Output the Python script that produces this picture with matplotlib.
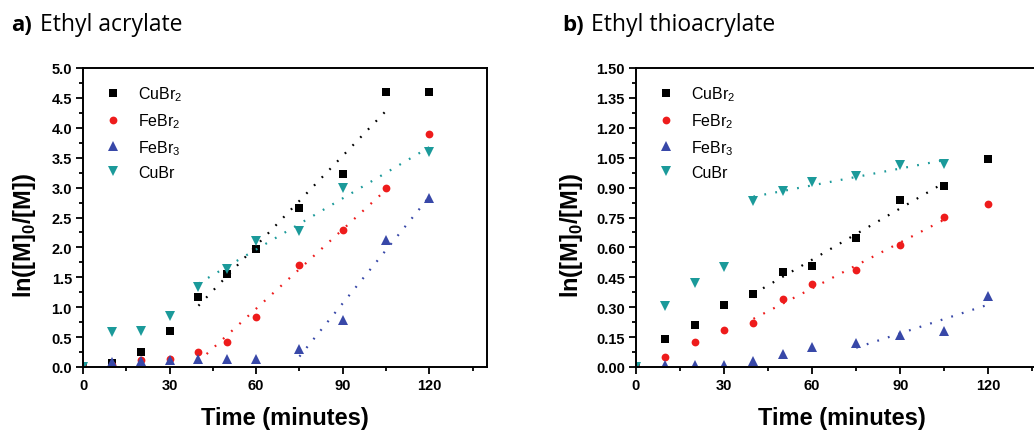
import matplotlib
matplotlib.use('Agg')
import matplotlib.pyplot as plt
import numpy as np
from matplotlib.ticker import MultipleLocator, FormatStrFormatter

plt.rcParams['font.family'] = ['Liberation Sans', 'DejaVu Sans']
plt.rcParams['mathtext.fontset'] = 'custom'
plt.rcParams['mathtext.rm'] = 'Liberation Sans'
plt.rcParams['mathtext.bf'] = 'Liberation Sans:bold'

# time points (minutes)
time = [0, 10, 20, 30, 40, 50, 60, 75, 90, 105, 120]

# a) Ethyl acrylate
a_cubr2 = [0, 0.07, 0.25, 0.61, 1.17, 1.55, 1.97, 2.66, 3.22, 4.60, 4.60]
a_febr2 = [0, 0.04, 0.11, 0.13, 0.25, 0.42, 0.84, 1.71, 2.29, 2.99, 3.89]
a_febr3 = [0, 0.08, 0.10, 0.11, 0.13, 0.14, 0.14, 0.30, 0.79, 2.13, 2.82]
a_cubr = [0, 0.58, 0.60, 0.86, 1.33, 1.64, 2.10, 2.28, 2.99, np.nan, 3.59]

# b) Ethyl thioacrylate
b_cubr2 = [0, 0.139, 0.21, 0.312, 0.367, 0.476, 0.508, 0.648, 0.839, 0.907, 1.044]
b_febr2 = [0, 0.050, 0.125, 0.184, 0.222, 0.341, 0.414, 0.488, 0.611, 0.752, 0.817]
b_febr3 = [0, 0.012, 0.011, 0.010, 0.030, 0.064, 0.102, 0.122, 0.161, 0.180, 0.356]
b_cubr = [0, 0.306, 0.421, 0.501, 0.835, 0.884, 0.930, 0.957, 1.014, 1.016, np.nan]

# range (start, end) of the linear fit for each series
a_fits = [(40, 105), (40, 105), (75, 120), (40, 120)]
b_fits = [(40, 105), (40, 105), (75, 120), (40, 105)]

labels = [r'CuBr$_2$', r'FeBr$_2$', r'FeBr$_3$', 'CuBr']
colors = ['#000000', '#ee1c1c', '#3848a8', '#1b9a9a']
markers = ['s', 'o', '^', 'v']
sizes = [5.2, 5.6, 6.6, 6.6]


def panel(ax, series, fits, ymax, ystep, fmt, ylab_x):
    t = np.array(time, dtype=float)
    for y, (t0, t1), lab, c, m, s in zip(series, fits, labels, colors, markers, sizes):
        y = np.array(y, dtype=float)
        ax.plot(t, y, linestyle='none', marker=m, color=c, markersize=s,
                markeredgewidth=0, label=lab)
        sel = (t >= t0) & (t <= t1) & ~np.isnan(y)
        k, b = np.polyfit(t[sel], y[sel], 1)
        tt = np.array([t0, t1])
        ax.plot(tt, k * tt + b, color=c, lw=1.6, linestyle=(0, (0.8, 4.2)))

    ax.set_xlim(0, 140)
    ax.set_ylim(0, ymax)
    ax.xaxis.set_major_locator(MultipleLocator(30))
    ax.xaxis.set_minor_locator(MultipleLocator(15))
    ax.yaxis.set_major_locator(MultipleLocator(ystep))
    ax.yaxis.set_minor_locator(MultipleLocator(ystep / 2))
    ax.yaxis.set_major_formatter(FormatStrFormatter(fmt))
    ax.tick_params(which='both', direction='out', width=1.3, labelsize=10.5)
    ax.tick_params(which='major', length=5, pad=3)
    ax.tick_params(which='minor', length=3)
    for lab in ax.get_xticklabels() + ax.get_yticklabels():
        lab.set_fontweight('bold')
    for sp in ax.spines.values():
        sp.set_linewidth(1.4)
    ax.set_xlabel('Time (minutes)', fontsize=17, fontweight='bold')
    ax.xaxis.set_label_coords(0.5, -0.13)
    ax.set_ylabel(r'ln([M]$_\mathbf{0}$/[M])', fontsize=17, fontweight='bold')
    ax.yaxis.set_label_coords(ylab_x, 0.445)
    ax.legend(loc='upper left', frameon=False, fontsize=11.5, handletextpad=0.6,
              labelspacing=0.5, borderaxespad=0.45, bbox_to_anchor=(0, 0.99))


fig = plt.figure(figsize=(10.34, 4.31), dpi=100)
ax1 = fig.add_axes([83 / 1034, 63 / 431, 404 / 1034, 299 / 431])
ax2 = fig.add_axes([636 / 1034, 63 / 431, 411 / 1034, 299 / 431])

panel(ax1, [a_cubr2, a_febr2, a_febr3, a_cubr], a_fits, 5.0, 0.5, '%.1f', -0.111)
panel(ax2, [b_cubr2, b_febr2, b_febr3, b_cubr], b_fits, 1.5, 0.15, '%.2f', -0.124)

tfont = ['Open Sans', 'DejaVu Sans']
ty = 1 - 31 / 431
fig.text(11 / 1034, ty, 'a)', fontsize=16, fontweight='bold', family=tfont, va='baseline')
fig.text(40 / 1034, ty, 'Ethyl acrylate', fontsize=16.5, family=tfont, va='baseline')
fig.text(562 / 1034, ty, 'b)', fontsize=16, fontweight='bold', family=tfont, va='baseline')
fig.text(591 / 1034, ty, 'Ethyl thioacrylate', fontsize=16.5, family=tfont, va='baseline')

fig.savefig('out.png', dpi=100)
